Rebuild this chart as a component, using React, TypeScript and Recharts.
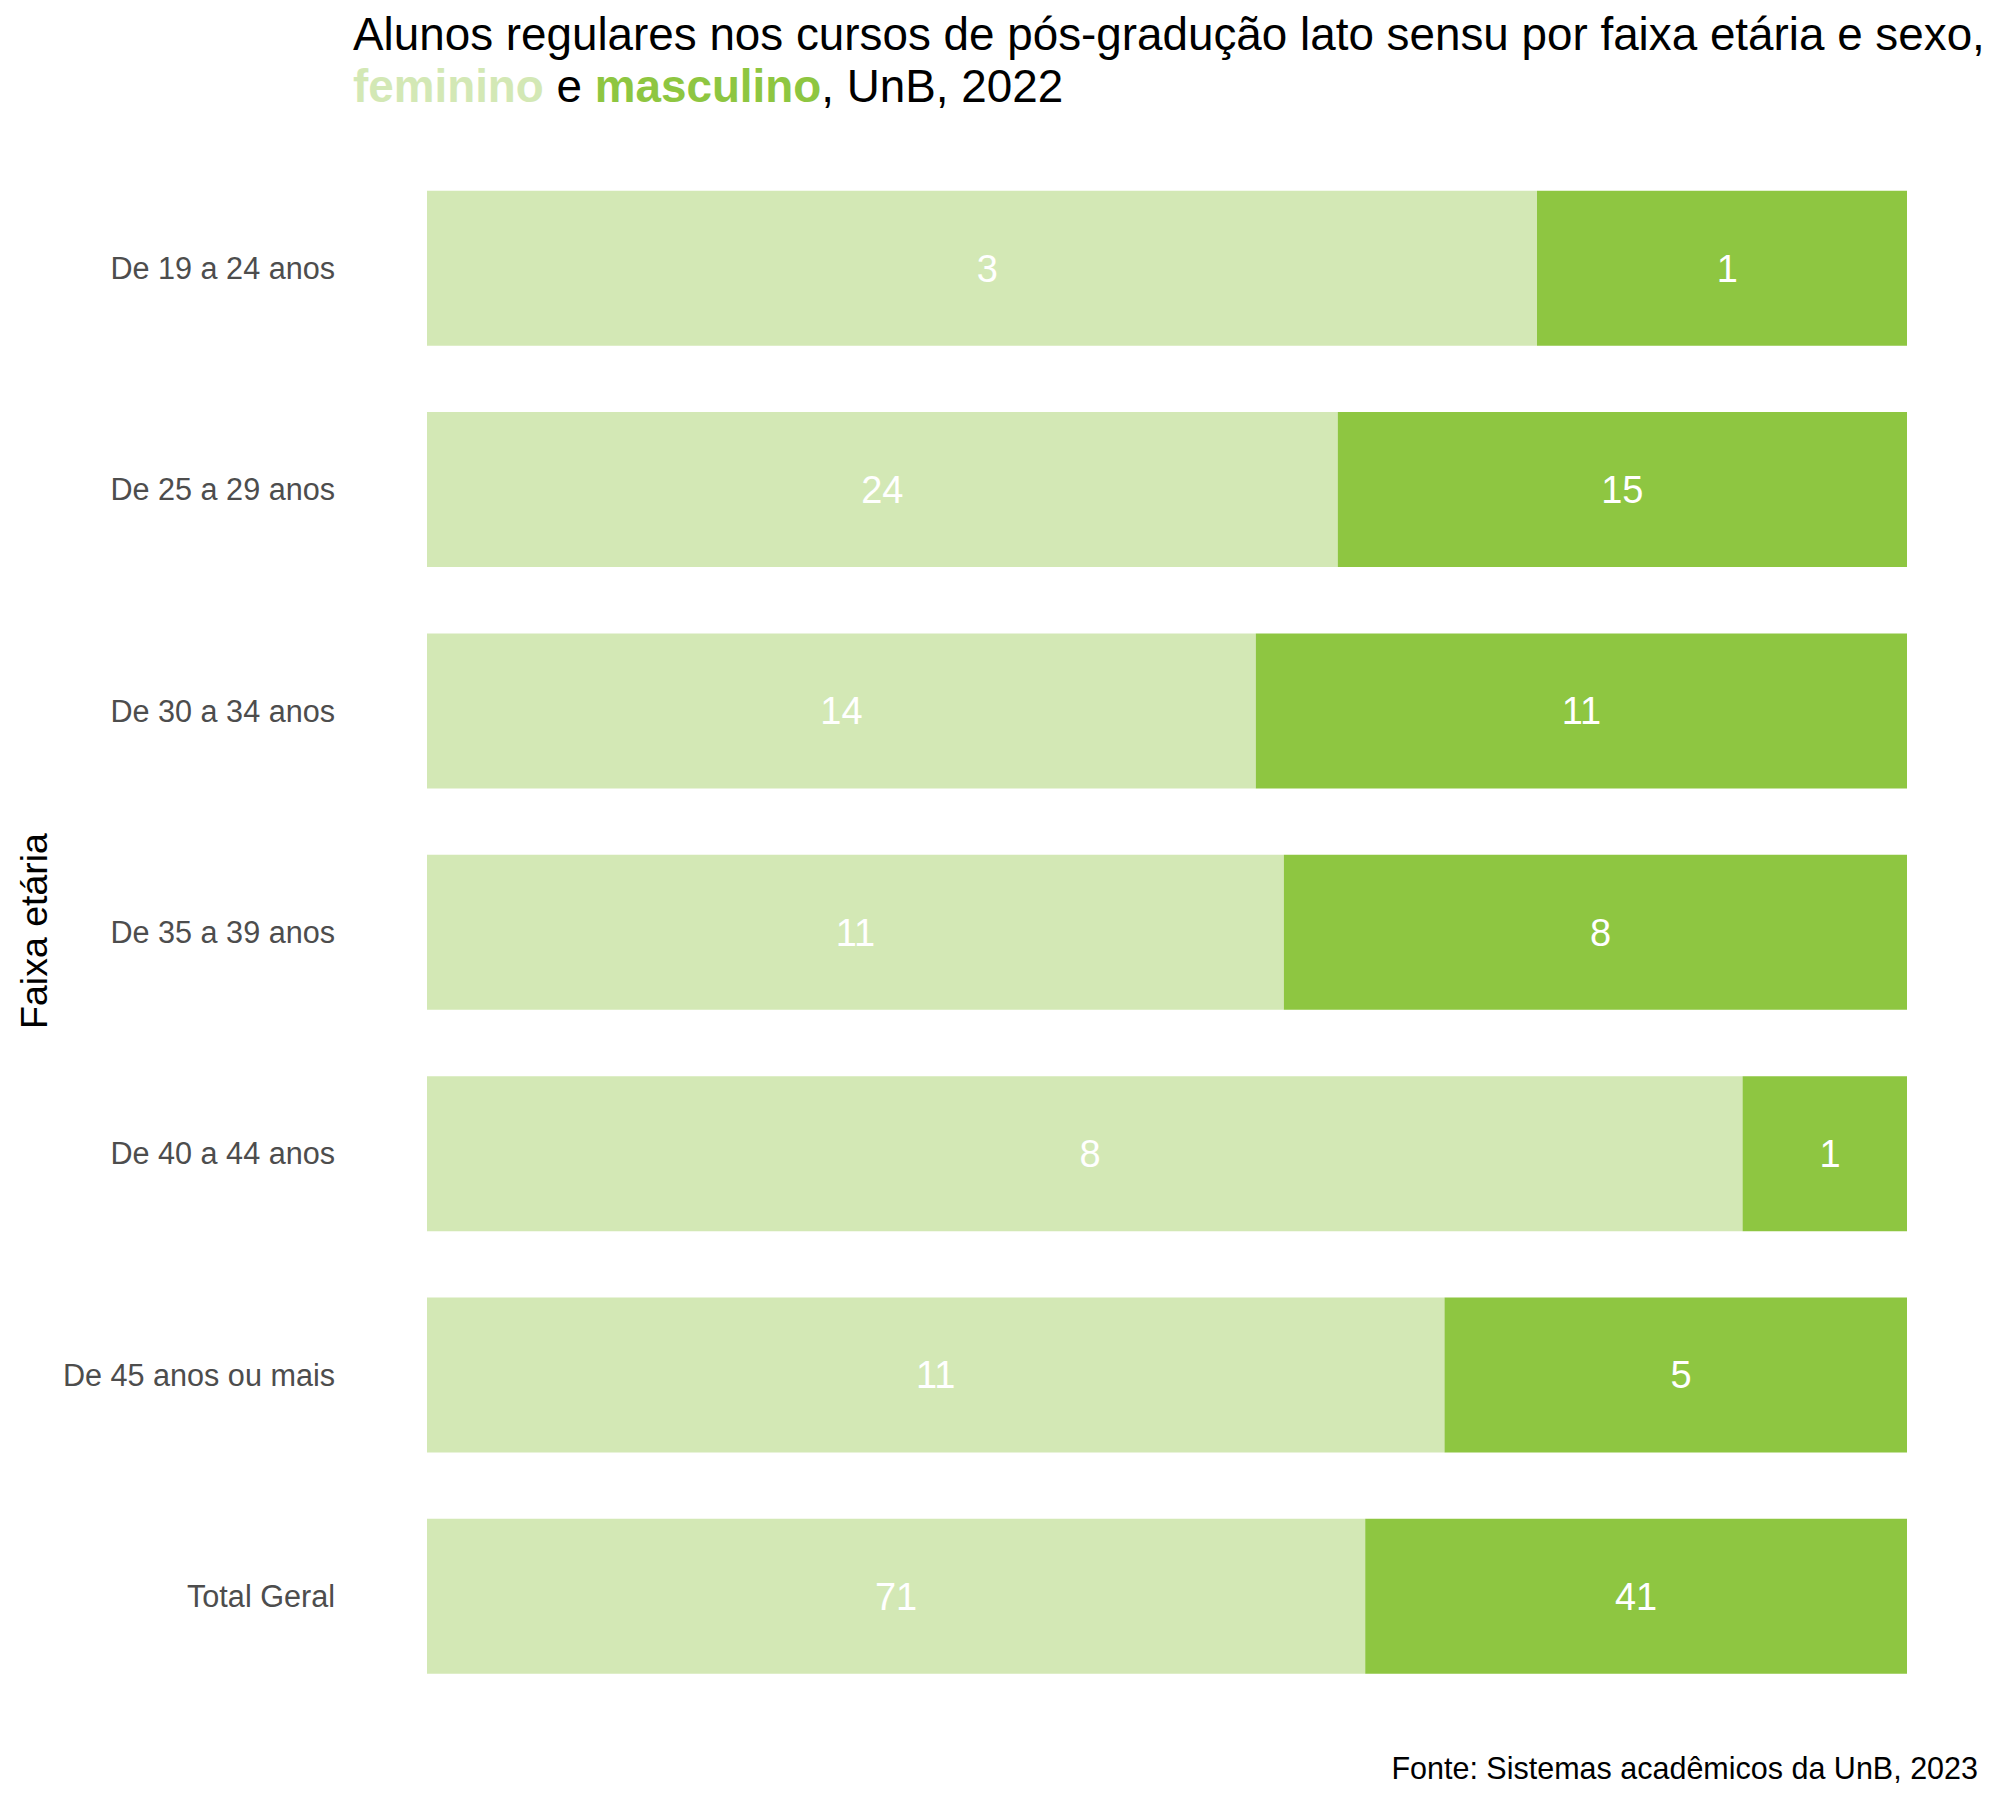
import React from 'react';
import { BarChart, Bar, XAxis, YAxis, LabelList } from 'recharts';

const categories = [
  'De 19 a 24 anos',
  'De 25 a 29 anos',
  'De 30 a 34 anos',
  'De 35 a 39 anos',
  'De 40 a 44 anos',
  'De 45 anos ou mais',
  'Total Geral',
];
const feminino = [3, 24, 14, 11, 8, 11, 71];
const masculino = [1, 15, 11, 8, 1, 5, 41];

const data = categories.map((name, i) => ({ name, fem: feminino[i], masc: masculino[i] }));

const FONT = '"Liberation Sans", Arial, Helvetica, sans-serif';
const FEM_COLOR = '#D3E8B5';
const MASC_COLOR = '#8EC641';

const pad2 = (v: any) => String(v).padStart(2, '\u00A0');

export default function App() {
  return (
    <div style={{ position: 'absolute', left: 0, top: 0, width: 2000, height: 1806, background: '#fff', fontFamily: FONT }}>
      <BarChart
        width={2000}
        height={1806}
        data={data}
        layout="vertical"
        stackOffset="expand"
        barCategoryGap="15%"
        margin={{ top: 157.5, bottom: 99, left: 0, right: 93 }}
        style={{ fontFamily: FONT }}
      >
        <XAxis type="number" hide domain={[0, 1]} />
        <YAxis
          type="category"
          dataKey="name"
          width={427}
          axisLine={false}
          tickLine={false}
          tickSize={0}
          tickMargin={92}
          tick={{ fill: '#4D4D4D', fontSize: 30.6, fontFamily: FONT }}
          interval={0}
        />
        <Bar dataKey="fem" stackId="a" fill={FEM_COLOR} isAnimationActive={false}>
          <LabelList dataKey="fem" position="center" fill="#FFFFFF" fontSize={38} fontFamily={FONT} formatter={pad2} />
        </Bar>
        <Bar dataKey="masc" stackId="a" fill={MASC_COLOR} isAnimationActive={false}>
          <LabelList dataKey="masc" position="center" fill="#FFFFFF" fontSize={38} fontFamily={FONT} formatter={pad2} />
        </Bar>
      </BarChart>
      <svg width={2000} height={1806} style={{ position: 'absolute', left: 0, top: 0, pointerEvents: 'none' }}>
        <text x={353} y={50} fontSize={45.8} fontFamily={FONT} fill="#000">
          Alunos regulares nos cursos de pós-gradução lato sensu por faixa etária e sexo,
        </text>
        <text x={353} y={102} fontSize={45.8} fontFamily={FONT} fill="#000">
          <tspan fill={FEM_COLOR} fontWeight="bold">feminino</tspan>
          <tspan> e </tspan>
          <tspan fill={MASC_COLOR} fontWeight="bold">masculino</tspan>
          <tspan>, UnB, 2022</tspan>
        </text>
        <text x={46.7} y={931} transform="rotate(-90, 46.7, 931)" textAnchor="middle" fontSize={37.5} fontFamily={FONT} fill="#000">
          Faixa etária
        </text>
        <text x={1978} y={1779} textAnchor="end" fontSize={30.5} fontFamily={FONT} fill="#000">
          Fonte: Sistemas acadêmicos da UnB, 2023
        </text>
      </svg>
    </div>
  );
}
